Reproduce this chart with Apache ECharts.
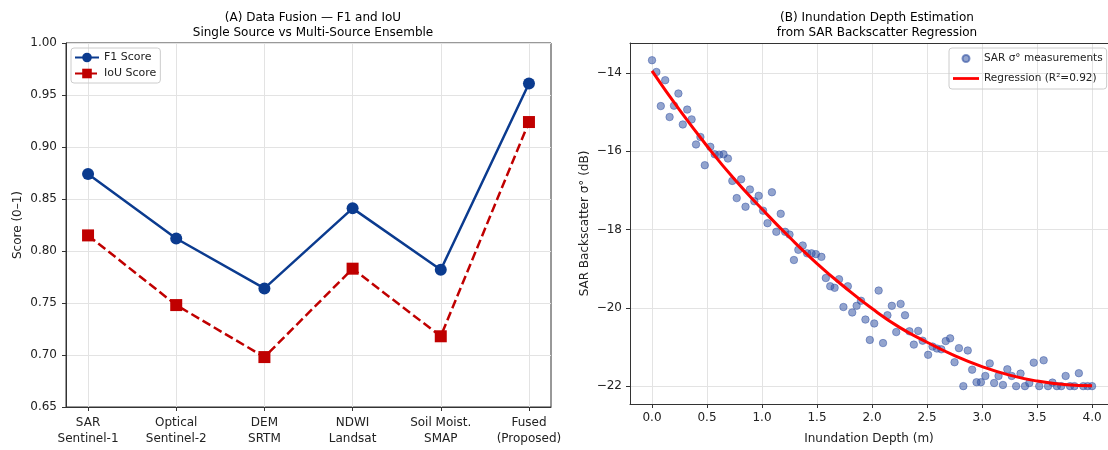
<!DOCTYPE html>
<html>
<head>
<meta charset="utf-8">
<script src="https://cdn.jsdelivr.net/npm/echarts@6/dist/echarts.min.js"></script>
<style>
  html, body { margin: 0; padding: 0; background: #fff; }
  #chart { width: 1108px; height: 450px; }
</style>
</head>
<body>
<div id="chart"></div>
<script>
// (A) data fusion scores
const sources = ['SAR\nSentinel-1', 'Optical\nSentinel-2', 'DEM\nSRTM', 'NDWI\nLandsat', 'Soil Moist.\nSMAP', 'Fused\n(Proposed)'];
const f1Score = [0.874, 0.812, 0.764, 0.841, 0.782, 0.961];
const iouScore = [0.815, 0.748, 0.698, 0.783, 0.718, 0.924];

// (B) SAR backscatter vs inundation depth
const depth = [0.00,0.04,0.08,0.12,0.16,0.20,0.24,0.28,0.32,0.36,0.40,0.44,0.48,0.53,0.57,0.61,0.65,0.69,0.73,0.77,
  0.81,0.85,0.89,0.93,0.97,1.01,1.05,1.09,1.13,1.17,1.21,1.25,1.29,1.33,1.37,1.41,1.45,1.49,1.54,1.58,
  1.62,1.66,1.70,1.74,1.78,1.82,1.86,1.90,1.94,1.98,2.02,2.06,2.10,2.14,2.18,2.22,2.26,2.30,2.34,2.38,
  2.42,2.46,2.51,2.55,2.59,2.63,2.67,2.71,2.75,2.79,2.83,2.87,2.91,2.95,2.99,3.03,3.07,3.11,3.15,3.19,
  3.23,3.27,3.31,3.35,3.39,3.43,3.47,3.52,3.56,3.60,3.64,3.68,3.72,3.76,3.80,3.84,3.88,3.92,3.96,4.00];
const sigma0 = [-13.68,-13.98,-14.85,-14.19,-15.13,-14.84,-14.53,-15.32,-14.94,-15.19,-15.83,-15.64,-16.36,-15.89,-16.08,-16.09,-16.08,-16.19,-16.76,-17.20,
  -16.72,-17.42,-16.98,-17.28,-17.14,-17.52,-17.84,-17.05,-18.06,-17.60,-18.06,-18.13,-18.78,-18.52,-18.41,-18.61,-18.61,-18.63,-18.70,-19.24,
  -19.45,-19.49,-19.27,-19.98,-19.45,-20.12,-19.95,-19.82,-20.30,-20.82,-20.40,-19.56,-20.90,-20.19,-19.95,-20.62,-19.90,-20.19,-20.60,-20.94,
  -20.59,-20.84,-21.20,-20.99,-21.04,-21.06,-20.85,-20.78,-21.39,-21.03,-22.00,-21.09,-21.58,-21.90,-21.90,-21.74,-21.42,-21.92,-21.74,-21.97,
  -21.57,-21.74,-22.00,-21.68,-22.00,-21.92,-21.40,-22.00,-21.34,-22.00,-21.91,-22.00,-22.00,-21.74,-22.00,-22.00,-21.67,-22.00,-22.00,-22.00];
const fitDepth = [0, 0.25, 0.5, 0.75, 1, 1.25, 1.5, 1.75, 2, 2.25, 2.5, 2.75, 3, 3.25, 3.5, 3.75, 4];
const fitSigma = [-13.95, -14.95, -15.87, -16.72, -17.48, -18.2, -18.87, -19.47, -20.02, -20.5, -20.88, -21.22, -21.5, -21.72, -21.87, -21.96, -21.99];
const depthTicks = [0, 0.5, 1, 1.5, 2, 2.5, 3, 3.5, 4];
const sigmaTicks = [-22, -20, -18, -16, -14];

const font = 'DejaVu Sans';
const ink = '#222';
const gridLine = { show: true, lineStyle: { color: '#e3e3e3', width: 1 } };
const axLine = { show: true, onZero: false, lineStyle: { color: '#333', width: 1 } };
const tick = { show: true, length: 4, lineStyle: { color: '#333' } };

const chart = echarts.init(document.getElementById('chart'), null, { renderer: 'canvas' });

chart.setOption({
  animation: false,
  textStyle: { fontFamily: font },
  title: [
    { text: '(A) Data Fusion — F1 and IoU\nSingle Source vs Multi-Source Ensemble',
      left: 308, top: 5, textAlign: 'center',
      textStyle: { fontFamily: font, fontSize: 12, fontWeight: 'normal', color: '#000', lineHeight: 15 } },
    { text: '(B) Inundation Depth Estimation\nfrom SAR Backscatter Regression',
      left: 872, top: 5, textAlign: 'center',
      textStyle: { fontFamily: font, fontSize: 12, fontWeight: 'normal', color: '#000', lineHeight: 15 } }
  ],
  legend: [
    { data: ['F1 Score', 'IoU Score'], orient: 'vertical', left: 71, top: 48,
      itemWidth: 24, itemHeight: 12, itemGap: 5, padding: [4, 4, 4, 3],
      borderColor: '#ccc', borderWidth: 1, borderRadius: 3,
      textStyle: { fontFamily: font, fontSize: 11, color: ink } },
    { data: [
        { name: 'SAR σ° measurements', icon: 'circle' },
        { name: 'Regression (R²=0.92)', icon: 'path://M0,0 L30,0 L30,3.2 L0,3.2 Z' }
      ],
      orient: 'vertical', left: 949, top: 48,
      itemWidth: 26, itemHeight: 7, itemGap: 9, padding: [5, 4, 5, 4],
      borderColor: '#ccc', borderWidth: 1, borderRadius: 3,
      textStyle: { fontFamily: font, fontSize: 10.5, color: ink } }
  ],
  grid: [
    { left: 66, right: 557, top: 43, bottom: 43, show: true, borderColor: '#333', borderWidth: 1 },
    // right panel is cut by the image edge, so no right border here
    { left: 630, right: 0, top: 43, bottom: 43, show: false }
  ],
  xAxis: [
    { type: 'value', gridIndex: 0, min: -0.25, max: 5.25,
      axisLine: axLine, axisTick: Object.assign({ customValues: [0, 1, 2, 3, 4, 5] }, tick),
      splitLine: gridLine,
      axisLabel: { customValues: [0, 1, 2, 3, 4, 5], color: ink, fontSize: 12, lineHeight: 16, margin: 8,
        formatter: v => sources[Math.round(v)] } },
    { type: 'value', gridIndex: 1, min: -0.2, max: 4.145,
      name: 'Inundation Depth (m)', nameLocation: 'middle', nameGap: 29,
      nameTextStyle: { fontFamily: font, fontSize: 12, color: ink },
      axisLine: axLine, axisTick: Object.assign({ customValues: depthTicks }, tick),
      splitLine: gridLine,
      axisLabel: { customValues: depthTicks, color: ink, fontSize: 12, margin: 8, formatter: v => v.toFixed(1) } },
    { type: 'value', gridIndex: 1, position: 'top', min: -0.2, max: 4.145,
      axisLine: axLine, axisTick: { show: false }, axisLabel: { show: false }, splitLine: { show: false } }
  ],
  yAxis: [
    { type: 'value', gridIndex: 0, min: 0.65, max: 1.0, interval: 0.05,
      name: 'Score (0–1)', nameLocation: 'middle', nameGap: 42,
      nameTextStyle: { fontFamily: font, fontSize: 12, color: ink },
      axisLine: axLine, axisTick: tick, splitLine: gridLine,
      axisLabel: { color: ink, fontSize: 12, margin: 9, formatter: v => v.toFixed(2) } },
    { type: 'value', gridIndex: 1, min: -22.456, max: -13.24,
      name: 'SAR Backscatter σ° (dB)', nameLocation: 'middle', nameGap: 39,
      nameTextStyle: { fontFamily: font, fontSize: 12, color: ink },
      axisLine: axLine, axisTick: Object.assign({ customValues: sigmaTicks }, tick),
      splitLine: gridLine,
      axisLabel: { customValues: sigmaTicks, color: ink, fontSize: 12, margin: 8,
        formatter: v => String(Math.round(v)).replace('-', '\u2212') } }
  ],
  series: [
    { name: 'F1 Score', type: 'line', xAxisIndex: 0, yAxisIndex: 0,
      data: f1Score.map((v, i) => [i, v]),
      symbol: 'circle', symbolSize: 12,
      lineStyle: { color: '#0b3b8f', width: 2.5 },
      itemStyle: { color: '#0b3b8f' }, z: 3 },
    { name: 'IoU Score', type: 'line', xAxisIndex: 0, yAxisIndex: 0,
      data: iouScore.map((v, i) => [i, v]),
      symbol: 'rect', symbolSize: 12,
      lineStyle: { color: '#c00000', width: 2.5, type: [9, 4] },
      itemStyle: { color: '#c00000' }, z: 2 },
    { name: 'SAR σ° measurements', type: 'scatter', xAxisIndex: 1, yAxisIndex: 1,
      data: depth.map((d, i) => [d, sigma0[i]]),
      symbol: 'circle', symbolSize: 7.5,
      itemStyle: { color: 'rgba(48,80,162,0.65)', borderColor: 'rgba(48,80,162,0.75)', borderWidth: 0.8 }, z: 2 },
    { name: 'Regression (R²=0.92)', type: 'line', xAxisIndex: 1, yAxisIndex: 1,
      data: fitDepth.map((d, i) => [d, fitSigma[i]]),
      smooth: true, showSymbol: false, symbol: 'none',
      lineStyle: { color: '#ff0000', width: 3 },
      itemStyle: { color: '#ff0000' }, z: 3 }
  ]
});
</script>
</body>
</html>
